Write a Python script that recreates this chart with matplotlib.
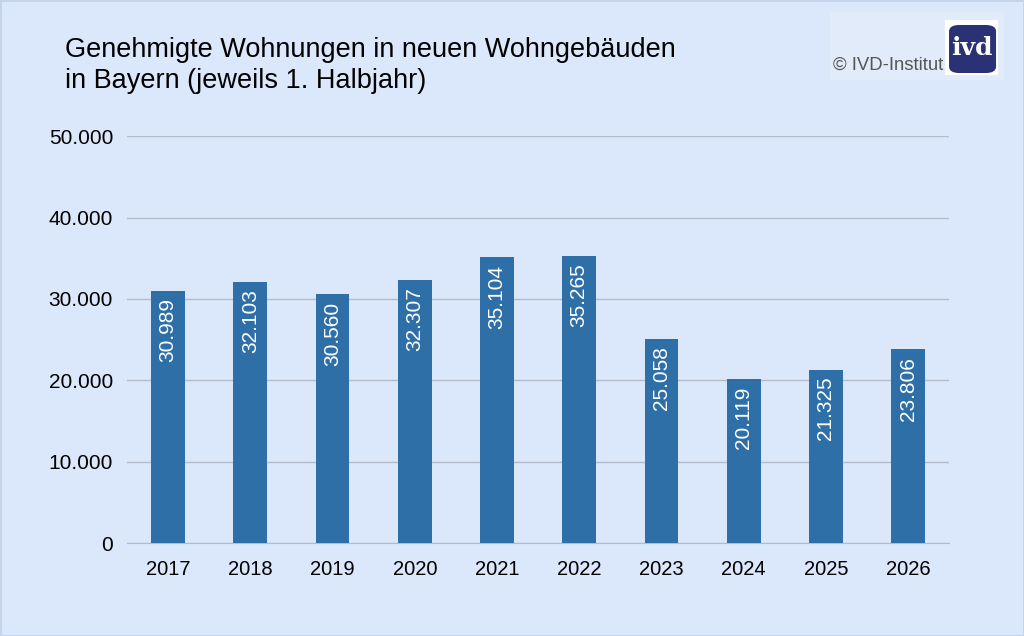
import matplotlib
matplotlib.use("Agg")
import matplotlib.pyplot as plt
from matplotlib.patches import Rectangle, FancyBboxPatch

plt.rcParams["font.family"] = ["Liberation Sans", "DejaVu Sans"]

years = ["2017", "2018", "2019", "2020", "2021", "2022", "2023", "2024", "2025", "2026"]
values = [30989, 32103, 30560, 32307, 35104, 35265, 25058, 20119, 21325, 23806]
yticks = [0, 10000, 20000, 30000, 40000, 50000]

def de(v):
    return f"{v:,}".replace(",", ".")

bg = "#dbe8fb"
bar_color = "#2e6fa8"

fig = plt.figure(figsize=(10.24, 6.36), dpi=100, facecolor=bg)
ax = fig.add_axes([0.124, 0.146, 0.803, 0.640], facecolor=bg)

x = range(len(years))
ax.bar(x, values, width=0.41, color=bar_color, zorder=3)
for xi, v in zip(x, values):
    ax.text(xi, v - 900, de(v), rotation=90, ha="center", va="top",
            color="white", fontsize=15, zorder=4)

ax.set_xlim(-0.5, len(years) - 0.5)
ax.set_ylim(0, 50000)
ax.set_yticks(yticks)
ax.set_yticklabels([de(v) for v in yticks])
ax.set_xticks(list(x))
ax.set_xticklabels(years)
ax.tick_params(axis="both", length=0, colors="black")
ax.tick_params(axis="y", pad=10, labelsize=15)
ax.tick_params(axis="x", pad=12, labelsize=14.5)
ax.grid(axis="y", color="#b4bccb", linewidth=1, zorder=0)
for s in ["top", "right", "left"]:
    ax.spines[s].set_visible(False)
ax.spines["bottom"].set_color("#b4bccb")

fig.text(0.063, 0.922, "Genehmigte Wohnungen in neuen Wohngebäuden", fontsize=19.5,
         ha="left", va="center")
fig.text(0.063, 0.873, "in Bayern (jeweils 1. Halbjahr)", fontsize=19.5,
         ha="left", va="center")

# frame
fig.patches.append(Rectangle((0, 0), 1, 1, transform=fig.transFigure,
                             facecolor="none", edgecolor="#c3d3ea", linewidth=2, zorder=0))

# logo
fig.patches.append(Rectangle((0.811, 0.874), 0.169, 0.107, transform=fig.transFigure,
                             facecolor="#e1ebf9", edgecolor="none", zorder=1))
fig.patches.append(Rectangle((0.9229, 0.882), 0.0517, 0.0865, transform=fig.transFigure,
                             facecolor="white", edgecolor="none", zorder=2))
fig.patches.append(FancyBboxPatch((0.9268, 0.8852), 0.0459, 0.0755, transform=fig.transFigure,
                                  boxstyle="round,pad=0,rounding_size=0.01",
                                  facecolor="#2a3275", edgecolor="none", zorder=3))
fig.text(0.9495, 0.925, "ivd", color="white", fontsize=18, fontweight="bold",
         family="DejaVu Serif", ha="center", va="center", zorder=4)
fig.text(0.921, 0.897, "© IVD-Institut", color="#555555", fontsize=13.3,
         ha="right", va="center", zorder=4)

fig.savefig("out.png", dpi=100, facecolor=bg)
